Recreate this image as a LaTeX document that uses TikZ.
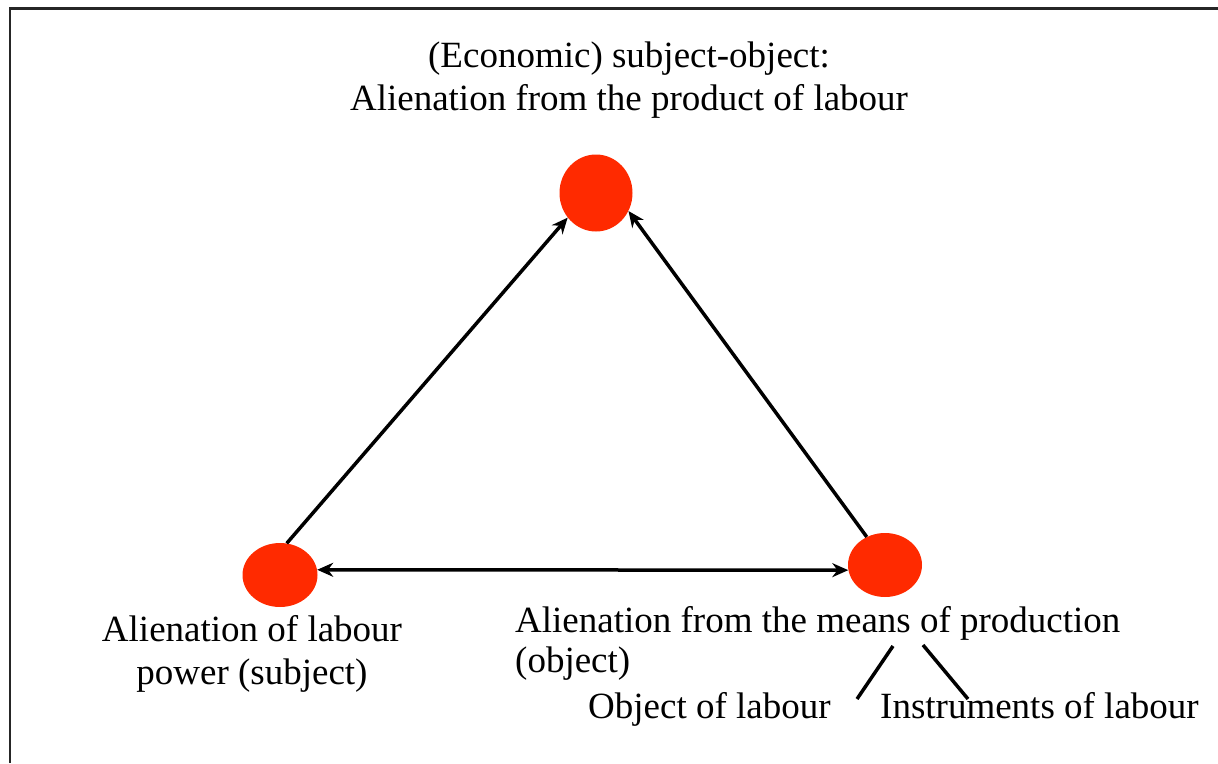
\documentclass[tikz,border=0pt]{standalone}
\usepackage{fontspec}
\setmainfont{Liberation Serif}
\usetikzlibrary{arrows.meta, shapes.geometric}
\definecolor{spotred}{RGB}{255,42,0}
\tikzset{
    spot/.style = {ellipse, fill=spotred, inner sep=0pt},
    lbl/.style = {inner sep=0pt, font=\fontsize{37}{43}\selectfont},
    arrow/.style = {line width=3.5pt, -{Stealth[length=16pt, width=14pt]}},
    twoway/.style = {line width=3.5pt, {Stealth[length=16pt, width=14pt]}-{Stealth[length=16pt, width=14pt]}},
    fork/.style = {line width=3.5pt}
}
\begin{document}
\begin{tikzpicture}[x=1pt, y=-1pt]
\useasboundingbox (0,0) rectangle (1218,763);
% frame
\draw [line width=2.5pt, black!85] (10,763) -- (10,8.5) -- (1218,8.5);

% the three alienations
\node (top) [spot, minimum width=73pt, minimum height=77pt] at (596,193) {};
\node (lft) [spot, minimum width=75pt, minimum height=64pt] at (280,575) {};
\node (rgt) [spot, minimum width=74pt, minimum height=64pt] at (885,565) {};

% base of a two-line node is its last line
\node (title) [lbl, align=center, anchor=base] at (629,110) {(Economic) subject-object:\\Alienation from the product of labour};
\node (lablft) [lbl, align=center, anchor=base] at (252,684) {Alienation of labour\\power (subject)};
\node (labrgt) [lbl, align=left, anchor=base west] at (515,672) {Alienation from the means of production\\[-3pt](object)};
\node (objlab) [lbl, anchor=base west] at (588,718) {Object of labour};
\node (instlab) [lbl, anchor=base west] at (880,718) {Instruments of labour};

\draw [arrow] (lft.78) -- (top.221);
\draw [arrow] (rgt.123) -- (top.331);
\draw [twoway] (lft.8) -- (rgt.188);

% split of the means of production
\coordinate (forkA) at (893,646);
\coordinate (forkB) at (857,699);
\coordinate (forkC) at (923,645);
\coordinate (forkD) at (968,699);
\draw [fork] (forkA) -- (forkB);
\draw [fork] (forkC) -- (forkD);
\end{tikzpicture}
\end{document}
